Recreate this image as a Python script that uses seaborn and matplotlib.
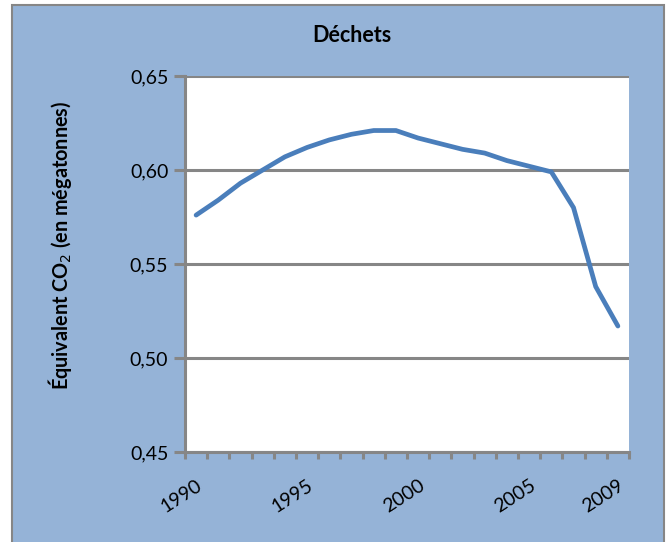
import matplotlib
matplotlib.use('Agg')
import matplotlib.pyplot as plt
from matplotlib.patches import Rectangle
from matplotlib.ticker import FuncFormatter
import seaborn as sns

# emissions du secteur déchets, 1990-2009
years = [1990, 1991, 1992, 1993, 1994, 1995, 1996, 1997, 1998, 1999,
         2000, 2001, 2002, 2003, 2004, 2005, 2006, 2007, 2008, 2009]
values = [0.576, 0.584, 0.593, 0.600, 0.607, 0.612, 0.616, 0.619, 0.621, 0.621,
          0.617, 0.614, 0.611, 0.609, 0.605, 0.602, 0.599, 0.580, 0.538, 0.517]
label_years = [1990, 1995, 2000, 2005, 2009]
yticks = [0.45, 0.50, 0.55, 0.60, 0.65]

BG = '#95B3D7'
GRID = '#868686'
LINE = '#4A7EBB'

sns.set_style('white')
plt.rcParams['font.family'] = ['Lato', 'DejaVu Sans']
plt.rcParams['text.color'] = 'black'
plt.rcParams['xtick.color'] = 'black'
plt.rcParams['ytick.color'] = 'black'
plt.rcParams['axes.labelcolor'] = 'black'

fig = plt.figure(figsize=(6.7, 5.42), dpi=100)
fig.patch.set_facecolor('white')
fig.patches.append(Rectangle((12/670, -0.01), 652/670, 1 - 5/542 + 0.01,
                             transform=fig.transFigure, facecolor=BG,
                             edgecolor=GRID, linewidth=1.5, zorder=-5))

ax = fig.add_axes([185/670, 1 - 452/542, 444/670, 376/542])
ax.set_facecolor('white')

sns.lineplot(x=years, y=values, ax=ax, color=LINE, linewidth=3.4,
             solid_capstyle='round', solid_joinstyle='miter')

ax.set_xlim(years[0] - 0.5, years[-1] + 0.5)
ax.set_ylim(yticks[0], yticks[-1])

ax.set_yticks(yticks)
ax.yaxis.set_major_formatter(FuncFormatter(lambda v, p: ('%.2f' % v).replace('.', ',')))
ax.grid(axis='y', color=GRID, linewidth=2.2)
ax.set_axisbelow(True)

ax.set_xticks(label_years)
ax.set_xticklabels([str(y) for y in label_years], rotation=33, ha='right',
                   rotation_mode='anchor')
ax.set_xticks([y - 0.5 for y in years] + [years[-1] + 0.5], minor=True)

for s in ['top', 'right']:
    ax.spines[s].set_visible(False)
for s in ['left', 'bottom']:
    ax.spines[s].set_color(GRID)
    ax.spines[s].set_linewidth(2.2)

ax.tick_params(axis='y', length=8, width=2.2, color=GRID, labelsize=14, pad=4,
               left=True, direction='out', labelcolor='black')
ax.tick_params(axis='x', which='major', length=0, labelsize=14, pad=18,
               labelcolor='black')
ax.tick_params(axis='x', which='minor', length=5, width=2.2, color=GRID,
               bottom=True, direction='out')

ax.set_xlabel('')
ax.set_ylabel('Équivalent CO$_2$ (en mégatonnes)', fontsize=14.3, fontweight='bold')
ax.yaxis.set_label_coords((74 - 185) / 444, (452 - 245) / 376)

fig.text(352/670, 1 - 35/542, 'Déchets', ha='center', va='center',
         fontsize=15.5, fontweight='bold')

fig.savefig('out.png', dpi=100, facecolor=fig.get_facecolor())
